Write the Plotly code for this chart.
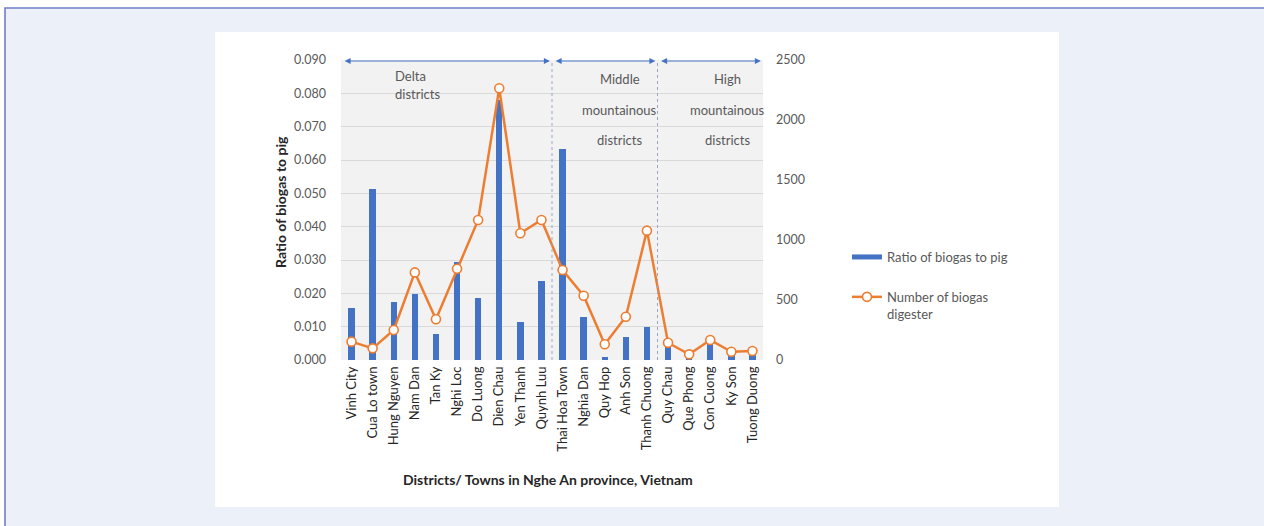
import plotly.graph_objects as go

districts = ["Vinh City", "Cua Lo town", "Hung Nguyen", "Nam Dan", "Tan Ky", "Nghi Loc",
             "Do Luong", "Dien Chau", "Yen Thanh", "Quynh Luu", "Thai Hoa Town", "Nghia Dan",
             "Quy Hop", "Anh Son", "Thanh Chuong", "Quy Chau", "Que Phong", "Con Cuong",
             "Ky Son", "Tuong Duong"]
ratio_biogas_pig = [0.0155, 0.0514, 0.0175, 0.0198, 0.0078, 0.0293, 0.0187, 0.0780, 0.0113, 0.0237,
                    0.0633, 0.0128, 0.0008, 0.0069, 0.0099, 0.0045, 0.0005, 0.0055, 0.0015, 0.0015]
num_digesters = [153, 97, 250, 730, 339, 761, 1167, 2264, 1056, 1167,
                 750, 536, 131, 361, 1078, 144, 47, 167, 69, 75]
group_names = [["Delta", "districts"], ["Middle", "mountainous", "districts"],
               ["High", "mountainous", "districts"]]
group_sizes = [10, 5, 5]
left_ticks = [0.0, 0.01, 0.02, 0.03, 0.04, 0.05, 0.06, 0.07, 0.08, 0.09]
right_ticks = [0, 500, 1000, 1500, 2000, 2500]

FONT = "Lato, 'Open Sans', sans-serif"
TXT = "#595959"
W, H = 1264, 526
L, R, T, B = 341, 763, 60, 360
BLUE = "#4472c4"
ORANGE = "#ed7d31"


def pxx(p):
    return (p - L) / (R - L)


def pxy(p):
    return (B - p) / (B - T)


fig = go.Figure()
fig.add_trace(go.Bar(x=districts, y=ratio_biogas_pig, name="Ratio of biogas to pig",
                     marker=dict(color=BLUE, line=dict(width=0)), width=0.3, showlegend=False))
# legend proxy drawn as a flat bar, like the reference legend key
fig.add_trace(go.Scatter(x=[None], y=[None], mode="lines", name="Ratio of biogas to pig",
                         line=dict(color=BLUE, width=5), legendgroup="a"))
fig.add_trace(go.Scatter(x=districts, y=num_digesters, name="Number of biogas<br>digester",
                         yaxis="y2", mode="lines+markers", legendgroup="b",
                         line=dict(color=ORANGE, width=2.5),
                         marker=dict(symbol="circle", size=9, color="white",
                                     line=dict(color=ORANGE, width=1.6))))

shapes = [
    dict(type="rect", xref="paper", yref="paper", x0=pxx(5), x1=pxx(W + 10), y0=pxy(8), y1=pxy(H + 10),
         fillcolor="#ecf0f8", line=dict(color="#6f7fc8", width=1.6), layer="below"),
    dict(type="rect", xref="paper", yref="paper", x0=pxx(215), x1=pxx(1059), y0=pxy(32), y1=pxy(507),
         fillcolor="white", line=dict(width=0), layer="below"),
    dict(type="rect", xref="paper", yref="paper", x0=0, x1=1, y0=0, y1=1,
         fillcolor="#f2f2f2", line=dict(width=0), layer="below"),
]
annotations = []
start = 0
arrow_y = 0.0897
for gi, (names, size) in enumerate(zip(group_names, group_sizes)):
    s, e = start, start + size - 1
    annotations.append(dict(xref="x", yref="y", axref="x", ayref="y",
                            x=e + 0.4, y=arrow_y, ax=s - 0.4, ay=arrow_y, text="",
                            showarrow=True, arrowhead=2, startarrowhead=2, arrowside="end+start",
                            arrowsize=1, startarrowsize=1, arrowwidth=1.2, arrowcolor=BLUE))
    if gi > 0:
        shapes.append(dict(type="line", xref="x", yref="paper", x0=s - 0.5, x1=s - 0.5, y0=0, y1=1,
                           line=dict(color="#9aa6c4", width=1, dash="dot")))
    start += size

# group labels
for txt, ypx in zip(group_names[0], [76, 94]):
    annotations.append(dict(xref="x", yref="paper", x=1.95, y=pxy(ypx), text=txt, showarrow=False,
                            xanchor="left", yanchor="middle", font=dict(family=FONT, size=13, color=TXT)))
for names, xc in [(group_names[1], 12.72), (group_names[2], 17.84)]:
    for txt, ypx in zip(names, [79, 110, 140]):
        annotations.append(dict(xref="x", yref="paper", x=xc, y=pxy(ypx), text=txt, showarrow=False,
                                xanchor="center", yanchor="middle",
                                font=dict(family=FONT, size=13, color=TXT)))

# axis titles
annotations.append(dict(xref="paper", yref="paper", x=pxx(280), y=pxy(202), text="<b>Ratio of biogas to pig</b>",
                        textangle=-90, showarrow=False, xanchor="center", yanchor="middle",
                        font=dict(family=FONT, size=14, color="#262626")))
annotations.append(dict(xref="paper", yref="paper", x=pxx(548), y=pxy(479),
                        text="<b>Districts/ Towns in Nghe An province, Vietnam</b>",
                        showarrow=False, xanchor="center", yanchor="middle",
                        font=dict(family=FONT, size=14, color="#262626")))

fig.update_layout(
    width=W, height=H,
    margin=dict(l=L, r=W - R, t=T, b=H - B, pad=0),
    paper_bgcolor="white", plot_bgcolor="rgba(0,0,0,0)",
    font=dict(family=FONT, size=11, color=TXT),
    bargap=0,
    showlegend=True,
    legend=dict(x=pxx(847), y=pxy(242), xanchor="left", yanchor="top", bgcolor="rgba(0,0,0,0)",
                font=dict(family=FONT, size=13, color=TXT), tracegroupgap=20, itemwidth=30,
                valign="top"),
    xaxis=dict(type="category", range=[-0.5, len(districts) - 0.5], tickangle=-90, showgrid=False,
               showline=False, ticks="", tickfont=dict(family=FONT, size=13, color="#262626"),
               ticklabelstandoff=3, zeroline=False),
    yaxis=dict(range=[0, 0.09], tickvals=left_ticks, tickformat=".3f", showgrid=True,
               gridcolor="#d9d9d9", gridwidth=1, zeroline=False, showline=False, ticks="",
               ticklabelstandoff=14, tickfont=dict(family=FONT, size=12.5, color=TXT)),
    yaxis2=dict(range=[0, 2500], tickvals=right_ticks, overlaying="y", side="right", showgrid=False,
                zeroline=False, showline=False, ticks="", ticklabelstandoff=12,
                tickfont=dict(family=FONT, size=12.5, color=TXT)),
    shapes=shapes, annotations=annotations,
)

fig.write_html("out.html", config={"displayModeBar": False},
               post_script="document.body.style.margin='0';document.body.style.overflow='hidden';")
